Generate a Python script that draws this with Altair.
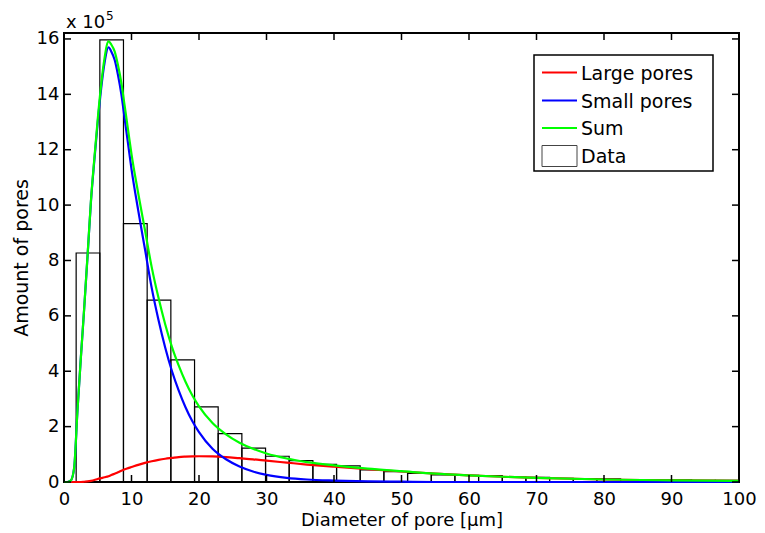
import altair as alt
import pandas as pd

# ---------------- data (values in units of 10^5 pores) ----------------
bin_edges = [1.80, 5.31, 8.81, 12.32, 15.83, 19.34, 22.84, 26.35, 29.86, 33.36,
             36.87, 40.38, 43.88, 47.39, 50.90, 54.41, 57.91, 61.42, 64.93, 68.43,
             71.94, 75.45, 78.95, 82.46, 85.97, 89.48, 92.98, 96.49, 100.0]
bar_counts = [8.27, 15.97, 9.33, 6.57, 4.41, 2.71, 1.75, 1.22, 0.93, 0.77,
              0.64, 0.58, 0.44, 0.37, 0.31, 0.26, 0.24, 0.23, 0.18, 0.17,
              0.13, 0.12, 0.11, 0.09, 0.08, 0.08, 0.06, 0.06]

x_curve = [0, 0.5, 1, 1.5, 2, 2.5, 3, 3.5, 4, 4.5, 5, 5.5, 6, 6.6, 7, 7.5, 8, 8.5,
           9, 9.5, 10, 11, 12, 13, 14, 15, 16, 17, 18, 19, 20, 22, 24, 26, 28, 30,
           33, 36, 40, 45, 50, 55, 60, 65, 70, 80, 90, 100]
large_pores = [0, 0, 0, 0, 0, 0, 0.01, 0.02, 0.04, 0.07, 0.11, 0.14, 0.17, 0.21,
               0.25, 0.30, 0.35, 0.41, 0.46, 0.50, 0.54, 0.62, 0.69, 0.75, 0.80,
               0.84, 0.87, 0.90, 0.915, 0.925, 0.93, 0.925, 0.90, 0.86, 0.82, 0.77,
               0.70, 0.63, 0.55, 0.46, 0.38, 0.30, 0.24, 0.19, 0.15, 0.09, 0.06, 0.04]
small_pores = [0, 0, 0.05, 0.5, 2.6, 4.5, 6.3, 8.2, 10.15, 11.63, 13.0, 14.2, 15.13,
               15.7, 15.55, 15.25, 14.7, 14.0, 13.1, 12.2, 11.3, 9.8, 8.4, 7.0, 5.85,
               4.85, 4.0, 3.3, 2.7, 2.2, 1.8, 1.2, 0.82, 0.56, 0.38, 0.26, 0.15, 0.09,
               0.05, 0.02, 0.01, 0, 0, 0, 0, 0, 0, 0]
sum_pores = [0, 0, 0.05, 0.5, 2.6, 4.5, 6.31, 8.22, 10.19, 11.7, 13.11, 14.34, 15.3,
             15.91, 15.8, 15.55, 15.05, 14.41, 13.56, 12.7, 11.84, 10.42, 9.09, 7.75,
             6.65, 5.69, 4.87, 4.2, 3.62, 3.13, 2.73, 2.13, 1.72, 1.42, 1.2, 1.03,
             0.85, 0.72, 0.60, 0.48, 0.39, 0.30, 0.24, 0.19, 0.15, 0.09, 0.06, 0.04]

x_ticks = [0, 10, 20, 30, 40, 50, 60, 70, 80, 90, 100]
y_ticks = [0, 2, 4, 6, 8, 10, 12, 14, 16]
legend_labels = ["Large pores", "Small pores", "Sum", "Data"]
series_colors = ["#ff0000", "#0000ff", "#00ff00"]

W, H = 675, 449
FONT = "DejaVu Sans"
FS = 19
TFS = 18

bars_df = pd.DataFrame({"x0": bin_edges[:-1], "x1": bin_edges[1:], "count": bar_counts})
xs = alt.Scale(domain=[0, 100], nice=False, zero=False)
ys = alt.Scale(domain=[0, 16.215], nice=False, zero=False)

bars = alt.Chart(bars_df).mark_rect(fill="white", fillOpacity=0, stroke="black",
                                    strokeWidth=1.2).encode(
    x=alt.X("x0:Q", scale=xs, axis=alt.Axis(values=x_ticks, title="Diameter of pore [µm]")),
    x2="x1:Q",
    y=alt.Y("count:Q", scale=ys, axis=alt.Axis(values=y_ticks, title="Amount of pores")),
    y2=alt.datum(0),
)

def curve(vals, color):
    df = pd.DataFrame({"x": x_curve, "v": vals})
    return alt.Chart(df).mark_line(color=color, strokeWidth=2.2,
                                   interpolate="monotone").encode(
        x=alt.X("x:Q", scale=xs), y=alt.Y("v:Q", scale=ys))

red = curve(large_pores, series_colors[0])
blue = curve(small_pores, series_colors[1])
green = curve(sum_pores, series_colors[2])

xt = pd.DataFrame({"t": x_ticks})
yt = pd.DataFrame({"t": y_ticks})
tick_bottom = alt.Chart(xt).mark_rule(color="black", strokeWidth=1.5).encode(
    x=alt.X("t:Q", scale=xs), y=alt.value(H), y2=alt.value(H - 7))
tick_top = alt.Chart(xt).mark_rule(color="black", strokeWidth=1.5).encode(
    x=alt.X("t:Q", scale=xs), y=alt.value(0), y2=alt.value(7))
tick_left = alt.Chart(yt).mark_rule(color="black", strokeWidth=1.5).encode(
    y=alt.Y("t:Q", scale=ys), x=alt.value(0), x2=alt.value(7))
tick_right = alt.Chart(yt).mark_rule(color="black", strokeWidth=1.5).encode(
    y=alt.Y("t:Q", scale=ys), x=alt.value(W), x2=alt.value(W - 7))

# ---------------- legend (drawn manually) ----------------
one = pd.DataFrame({"k": [0]})
LX0, LX1, LY0, LY1 = 470, 649, 22, 138
legend_box = alt.Chart(one).mark_rect(fill="white", stroke="black", strokeWidth=1.5).encode(
    x=alt.value(LX0), x2=alt.value(LX1), y=alt.value(LY0), y2=alt.value(LY1))
rows = [39.5, 67.5, 95, 123]
legend_layers = [legend_box]
for i, col in enumerate(series_colors):
    legend_layers.append(alt.Chart(one).mark_rule(color=col, strokeWidth=2).encode(
        x=alt.value(LX0 + 8), x2=alt.value(LX0 + 43), y=alt.value(rows[i])))
legend_layers.append(alt.Chart(one).mark_rect(fill="white", stroke="#444444",
                                             strokeWidth=1).encode(
    x=alt.value(LX0 + 8), x2=alt.value(LX0 + 43), y=alt.value(rows[3] - 10.5),
    y2=alt.value(rows[3] + 10.5)))
for i, lab in enumerate(legend_labels):
    legend_layers.append(alt.Chart(pd.DataFrame({"lab": [lab]})).mark_text(
        align="left", baseline="middle", font=FONT, fontSize=FS, color="black").encode(
        text="lab:N", x=alt.value(LX0 + 47), y=alt.value(rows[i] + 1)))

exp_base = alt.Chart(pd.DataFrame({"s": ["x 10"]})).mark_text(
    align="left", baseline="alphabetic", font=FONT, fontSize=18, color="black").encode(
    text="s:N", x=alt.value(2), y=alt.value(-5))
exp_sup = alt.Chart(pd.DataFrame({"s": ["5"]})).mark_text(
    align="left", baseline="alphabetic", font=FONT, fontSize=12, color="black").encode(
    text="s:N", x=alt.value(42), y=alt.value(-13))

chart = alt.layer(
    bars, red, blue, green,
    tick_bottom, tick_top, tick_left, tick_right,
    *legend_layers, exp_base, exp_sup,
).properties(
    width=W, height=H,
    autosize=alt.AutoSizeParams(type="none"),
    padding={"left": 56, "top": 25, "right": 18, "bottom": 51},
).configure_view(
    stroke="black", strokeWidth=2
).configure_axis(
    grid=False, domain=False, ticks=False, labelFlush=False,
    labelFont=FONT, labelFontSize=TFS, labelColor="black",
    titleFont=FONT, titleFontSize=FS, titleColor="black", titleFontWeight="normal",
).configure_axisX(
    labelPadding=8, titlePadding=3, titleFontSize=18
).configure_axisY(
    labelPadding=5, titlePadding=5
)

chart.save("out.html", embed_options={"renderer": "svg", "actions": False})
